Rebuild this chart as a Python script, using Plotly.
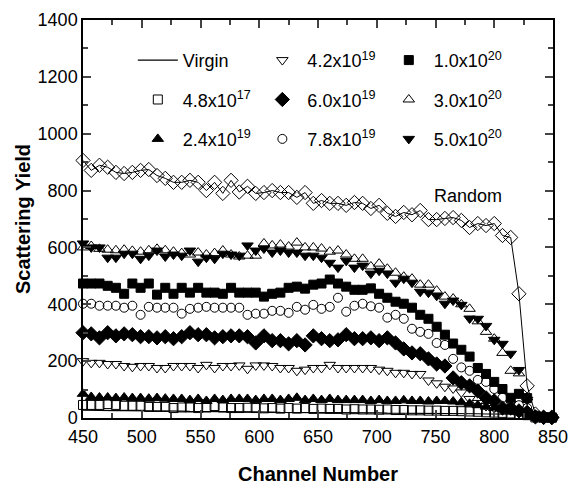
import plotly.graph_objects as go

channels = [450 + 7 * i for i in range(58)]

random_yield = [906, 871, 889, 882, 864, 860, 864, 871, 874, 853,
                843, 829, 829, 836, 829, 800, 829, 790, 836, 795,
                815, 790, 793, 800, 793, 793, 776, 793, 755, 765,
                755, 755, 748, 758, 755, 737, 748, 720, 709, 723,
                715, 730, 698, 698, 702, 705, 695, 670, 684, 677,
                684, 642, 635, 437, 113, 14, 3, 3]

virgin = [28, 27, 28, 27, 26, 26, 26, 25, 25, 25,
          24, 24, 24, 23, 23, 22, 23, 22, 22, 22,
          21, 21, 21, 21, 20, 20, 20, 20, 20, 19,
          19, 19, 19, 18, 18, 18, 18, 17, 17, 17,
          17, 16, 16, 16, 16, 15, 15, 15, 15, 14,
          14, 14, 13, 13, 10, 3, 1, 1]

d_4p8e17 = [46, 46, 46, 49, 46, 43, 43, 43, 39, 39,
            39, 35, 37, 37, 35, 37, 42, 37, 35, 35,
            36, 35, 34, 35, 33, 35, 33, 35, 32, 33,
            32, 32, 30, 31, 30, 30, 29, 30, 28, 28,
            27, 27, 26, 26, 25, 25, 24, 23, 22, 20,
            19, 18, 16, 14, 10, 2, 1, 1]

d_2p4e19 = [85, 74, 72, 72, 70, 72, 70, 70, 68, 70,
            68, 67, 67, 63, 67, 60, 67, 63, 67, 67,
            67, 63, 67, 67, 63, 67, 71, 63, 67, 63,
            67, 63, 63, 63, 63, 60, 63, 60, 60, 62,
            60, 60, 58, 60, 60, 58, 55, 50, 45, 40,
            35, 32, 25, 20, 15, 3, 2, 1]

d_4p2e19 = [200, 194, 194, 190, 190, 183, 180, 183, 183, 176,
            176, 183, 183, 183, 176, 187, 176, 183, 183, 185,
            173, 185, 185, 183, 176, 176, 166, 170, 176, 176,
            187, 176, 176, 176, 176, 176, 170, 166, 159, 159,
            155, 155, 132, 122, 110, 104, 90, 67, 53, 42,
            35, 30, 30, 20, 15, 3, 2, 1]

d_6p0e19 = [300, 296, 282, 300, 289, 296, 293, 286, 286, 282,
            286, 279, 286, 300, 293, 293, 282, 286, 289, 289,
            286, 264, 289, 272, 272, 261, 272, 257, 289, 279,
            272, 275, 293, 279, 279, 282, 272, 282, 264, 243,
            229, 226, 208, 190, 183, 141, 124, 113, 95, 71,
            60, 35, 35, 25, 20, 4, 2, 1]

d_7p8e19 = [402, 402, 395, 395, 395, 388, 395, 363, 391, 388,
            388, 388, 367, 384, 388, 391, 388, 388, 388, 388,
            363, 367, 367, 377, 377, 370, 391, 381, 398, 384,
            391, 423, 374, 395, 402, 393, 388, 353, 363, 349,
            314, 303, 296, 264, 257, 208, 178, 166, 134, 127,
            102, 71, 60, 45, 35, 5, 3, 2]

d_1p0e20 = [473, 473, 473, 465, 458, 437, 473, 458, 473, 434,
            458, 437, 458, 441, 458, 441, 441, 437, 458, 441,
            441, 441, 427, 437, 441, 458, 462, 455, 469, 473,
            487, 473, 462, 451, 451, 456, 437, 423, 409, 402,
            388, 363, 349, 321, 293, 262, 240, 216, 176, 155,
            127, 102, 71, 85, 70, 8, 3, 2]

d_3p0e20 = [600, 605, 595, 592, 590, 592, 588, 585, 590, 595,
            590, 585, 580, 575, 582, 575, 580, 589, 575, 568,
            571, 571, 614, 607, 610, 603, 617, 600, 600, 596,
            585, 589, 575, 560, 560, 533, 543, 525, 511, 497,
            490, 469, 469, 448, 427, 420, 400, 384, 340, 303,
            279, 229, 166, 157, 72, 10, 5, 3]

d_5p0e20 = [614, 600, 600, 564, 564, 578, 578, 560, 571, 589,
            568, 575, 571, 589, 550, 564, 560, 578, 575, 571,
            607, 589, 596, 582, 589, 582, 582, 571, 571, 564,
            546, 529, 553, 529, 536, 508, 518, 508, 476, 490,
            476, 444, 441, 430, 402, 413, 398, 350, 349, 324,
            275, 261, 226, 169, 64, 10, 5, 3]

FONT = "Liberation Sans, Arial, sans-serif"

series = [
    ("4.8x10<sup>17</sup>", d_4p8e17, "square-open", "legend", 9),
    ("2.4x10<sup>19</sup>", d_2p4e19, "triangle-up", "legend", 10),
    ("4.2x10<sup>19</sup>", d_4p2e19, "triangle-down-open", "legend2", 10),
    ("6.0x10<sup>19</sup>", d_6p0e19, "diamond", "legend2", 11),
    ("7.8x10<sup>19</sup>", d_7p8e19, "circle-open", "legend2", 9),
    ("1.0x10<sup>20</sup>", d_1p0e20, "square", "legend3", 9),
    ("3.0x10<sup>20</sup>", d_3p0e20, "triangle-up-open", "legend3", 10),
    ("5.0x10<sup>20</sup>", d_5p0e20, "triangle-down", "legend3", 10),
]

fig = go.Figure()

fig.add_trace(go.Scatter(
    x=channels, y=random_yield, mode="lines+markers", showlegend=False,
    line=dict(color="black", width=1),
    marker=dict(symbol="diamond-open", size=11, color="black", line=dict(width=1)),
    cliponaxis=False))

fig.add_trace(go.Scatter(
    x=channels, y=virgin, mode="lines", name="Virgin", legend="legend",
    legendgroup="virgin", line=dict(color="black", width=1.2), cliponaxis=False))

for name, vals, sym, leg, sz in series:
    fig.add_trace(go.Scatter(
        x=channels, y=vals, mode="markers", name=name, legend=leg,
        legendgroup=name,
        marker=dict(symbol=sym, size=sz, color="black", line=dict(width=1, color="black")),
        cliponaxis=False))

leg_common = dict(bgcolor="rgba(0,0,0,0)", borderwidth=0,
                  font=dict(family=FONT, size=18, color="black"),
                  tracegroupgap=13, yanchor="top", xanchor="left",
                  traceorder="grouped", itemwidth=40)

fig.update_layout(
    width=569, height=485,
    margin=dict(l=83, r=16, t=20, b=67, autoexpand=False),
    paper_bgcolor="white", plot_bgcolor="white",
    font=dict(family=FONT, size=18, color="black"),
    legend=dict(x=0.106, y=0.945, **leg_common),
    legend2=dict(x=0.371, y=0.945, **leg_common),
    legend3=dict(x=0.64, y=0.945, **leg_common),
    xaxis=dict(
        range=[450, 850], dtick=50, tick0=450, automargin=False,
        ticks="inside", ticklen=8, tickwidth=1.5, ticklabelstandoff=2,
        showline=True, linewidth=1.5, linecolor="black", mirror="allticks",
        showgrid=False, zeroline=False,
        minor=dict(ticks="inside", ticklen=5, tickwidth=1.5, dtick=25, showgrid=False),
        tickfont=dict(family=FONT, size=18),
        title=dict(text="<b>Channel Number</b>", font=dict(family=FONT, size=20), standoff=31),
    ),
    yaxis=dict(
        range=[0, 1400], dtick=200, automargin=False,
        ticks="inside", ticklen=8, tickwidth=1.5,
        showline=True, linewidth=1.5, linecolor="black", mirror="allticks",
        showgrid=False, zeroline=False,
        minor=dict(ticks="inside", ticklen=5, tickwidth=1.5, dtick=100, showgrid=False),
        tickfont=dict(family=FONT, size=18),
        title=dict(text="<b>Scattering Yield</b>", font=dict(family=FONT, size=20), standoff=2),
    ),
    annotations=[dict(x=778, y=782, xref="x", yref="y", text="Random", showarrow=False,
                      font=dict(family=FONT, size=18, color="black"))],
)

fig.write_html("out.html")
